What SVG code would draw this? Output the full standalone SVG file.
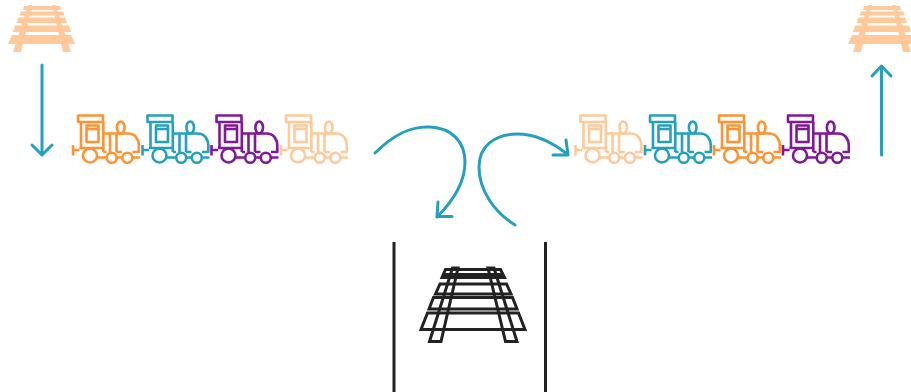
<svg xmlns="http://www.w3.org/2000/svg" width="911" height="392" viewBox="0 0 911 392">
<style>
.conn{fill:none;stroke:#24a0bf;stroke-width:3;stroke-linecap:round;stroke-linejoin:round}
.wall{fill:none;stroke:#222;stroke-width:3}
.t{fill:none;stroke:currentColor;stroke-width:2.6;stroke-linejoin:round}
.orange{color:#ff9233}.teal{color:#24a0bf}.purple{color:#80189a}.peach{color:#ffc999}
.ptrack{fill:#ffc999}
.btrack{fill:none;stroke:#222;stroke-width:3;stroke-linejoin:miter}
</style>
<defs>
<g id="train" class="t">
<rect x="78" y="115.500" width="25" height="6.500"/>
<path d="M81 148V122M103.300 152V122"/>
<rect x="86.500" y="125.500" width="12" height="16.500"/>
<path d="M86.500 129H98.500"/>
<path d="M103.300 133.500H125H128C135 133.500 138.800 139 138.800 146V152H132.500M122 152H116.500M106.500 152H103.300M110 133.500V152M116.500 133.500V152"/>
<ellipse cx="120.700" cy="127.500" rx="3.800" ry="6"/>
<path d="M73 145V155.500M73 150H79.500M79.500 148H103.300"/>
<circle cx="90" cy="155.500" r="7"/>
<circle cx="111.700" cy="157.700" r="5"/>
<circle cx="127.300" cy="157.700" r="5"/>
<path d="M97 157.500H106.700M116.700 157.500H122.300M132.300 157.500H140"/>
</g>
<g id="ptrack" class="ptrack">
<path d="M24 6H60L61 10H23ZM21 11.500H63L64.500 15.500H19.500ZM18.500 17.500H65L67 23H16.500ZM15 25.500H69L71 32H13ZM12 35H71L75 44H8Z"/>
<path d="M28 5H32L21 52H13ZM52 5H55.500L71 52H63Z"/>
</g>
</defs>
<g id="track-left"><use href="#ptrack"/></g>
<g id="track-right"><use href="#ptrack" x="840"/></g>
<g id="track-center" class="btrack">
<path d="M427.500 313H518.500L525 329.500H421Z"/>
<path d="M433.500 297.500H512.500L517 309H429Z"/>
<path d="M440 284H506.500L511 294H435.500Z"/>
<path d="M445.500 269.500H500.500L504.500 277.500H442Z"/>
<path d="M444 274.500H502"/>
<path d="M452.500 268H458L441 341.500H429.500Z"/>
<path d="M488 268H494L517 341.500H505.500Z"/>
</g>
<g id="walls" class="wall">
<path d="M394 242V392M545.500 242V392"/>
</g>
<g id="train-l1" class="orange"><use href="#train"/></g>
<g id="train-l2" class="teal"><use href="#train" x="69.500"/></g>
<g id="train-l3" class="purple"><use href="#train" x="138.500"/></g>
<g id="train-l4" class="peach"><use href="#train" x="208"/></g>
<g id="train-r1" class="peach"><use href="#train" x="502.500"/></g>
<g id="train-r2" class="teal"><use href="#train" x="572"/></g>
<g id="train-r3" class="orange"><use href="#train" x="641"/></g>
<g id="train-r4" class="purple"><use href="#train" x="710"/></g>
<g id="connectors" class="conn">
<path d="M42 65V155M32 145L42 155L52 145"/>
<path d="M881.500 155V66M872 76L881.500 66L891 76"/>
<path d="M375 153C395 133 412 126 430 127C452 128 465 142 465 162C465 182 453 201 437 217"/>
<path d="M438 202L437 216.500H452"/>
<path d="M515 225C494 212 479 190 479 167C479 146 495 134 517 134C535 134 552 142 567 154"/>
<path d="M566 140L568 155H553"/>
</g>
</svg>
